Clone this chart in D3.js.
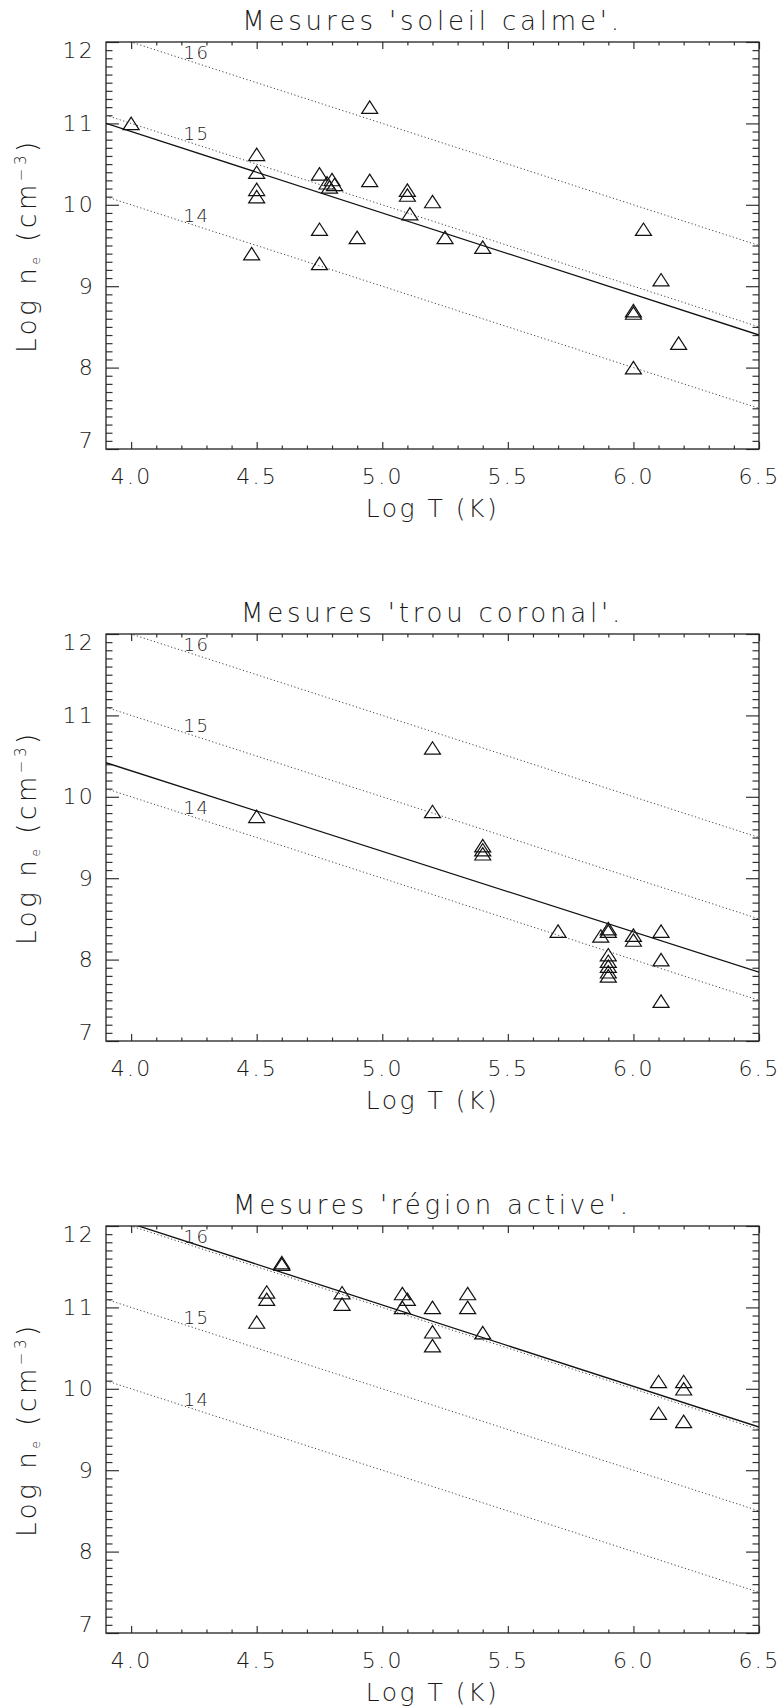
<!DOCTYPE html>
<html>
<head>
<meta charset="utf-8">
<script src="https://cdn.jsdelivr.net/npm/d3@7"></script>
<style>
  body { margin: 0; background: #fff; }
</style>
</head>
<body>
<div id="chart-area"></div>
<script>
// panels: titles + measured points (log T, log ne)
let titles = ["Mesures 'soleil calme'.", "Mesures 'trou coronal'.", "Mesures 'région active'."];

let calmeT  = [4.0, 4.95, 4.5, 4.5, 4.5, 4.5, 4.48, 4.75, 4.75, 4.75, 4.78, 4.80, 4.79, 4.81,
               4.95, 5.1, 5.1, 5.2, 5.11, 4.9, 5.25, 5.4, 6.04, 6.11, 6.0, 6.0, 6.18, 6.0];
let calmeNe = [11.0, 11.2, 10.62, 10.4, 10.19, 10.1, 9.4, 10.38, 9.7, 9.28, 10.27, 10.31, 10.22, 10.25,
               10.3, 10.18, 10.12, 10.04, 9.89, 9.6, 9.6, 9.48, 9.7, 9.08, 8.7, 8.67, 8.3, 8.0];

let trouT  = [4.5, 5.2, 5.2, 5.4, 5.4, 5.4, 5.7, 5.87, 5.9, 5.9, 5.9, 5.9, 5.9, 5.9, 5.9,
              6.0, 6.0, 6.11, 6.11, 6.11];
let trouNe = [9.76, 10.6, 9.82, 9.4, 9.35, 9.3, 8.35, 8.29, 8.38, 8.35, 8.06, 7.98, 7.92, 7.85, 7.8,
              8.3, 8.24, 8.35, 8.0, 7.49];

let actifT  = [4.6, 4.6, 4.54, 4.54, 4.5, 4.84, 4.84, 5.08, 5.1, 5.08, 5.2, 5.2, 5.2,
               5.34, 5.34, 5.4, 6.1, 6.1, 6.2, 6.2, 6.2];
let actifNe = [11.55, 11.53, 11.19, 11.1, 10.82, 11.18, 11.04, 11.17, 11.1, 11.0, 11.0, 10.7, 10.53,
               11.17, 11.0, 10.69, 10.09, 9.7, 10.09, 10.0, 9.6];

// fitted line: log ne = a + b * log T
let fitA = [14.9, 14.28, 16.03];
let fitB = [-1.0, -0.99, -1.0];

// iso-pressure lines  ne*T = 10^p
let isoP = [14, 15, 16];

let xTicks = [4.0, 4.5, 5.0, 5.5, 6.0, 6.5];
let xTickLabels = ['4.0', '4.5', '5.0', '5.5', '6.0', '6.5'];
let yTicks = [7, 8, 9, 10, 11, 12];
let yTickLabels = ['7', '8', '9', '10', '11', '12'];

let panels = [
  { T: calmeT, ne: calmeNe },
  { T: trouT, ne: trouNe },
  { T: actifT, ne: actifNe }
];

let FONT = "'DejaVu Sans', sans-serif";
let margin = { left: 106, top: [42, 634, 1226] };
let width = 653;
let height = 407;

let svg = d3.select('#chart-area').append('svg')
  .attr('width', 782)
  .attr('height', 1708);

let x = d3.scaleLinear().domain([3.9, 6.5]).range([0, width]);
let y = d3.scaleLinear().domain([7, 12]).range([height, 0]);

let xMinor = d3.range(40, 66).map(d => d / 10).filter(d => xTicks.indexOf(d) < 0);
let yMinor = d3.range(71, 120).map(d => d / 10).filter(d => yTicks.indexOf(d) < 0);

let tri = 'M-8,6.2L0,-6.2L8,6.2Z';

panels.forEach((p, i) => {
  let g = svg.append('g')
    .attr('transform', `translate(${margin.left}, ${margin.top[i]})`);

  g.append('clipPath').attr('id', 'clip' + i)
    .append('rect').attr('width', width).attr('height', height);

  // title
  g.append('text')
    .attr('x', width / 2)
    .attr('y', -12)
    .attr('text-anchor', 'middle')
    .attr('font-family', FONT)
    .attr('font-weight', 200)
    .attr('font-size', 26)
    .attr('letter-spacing', 3.8)
    .attr('fill', '#1a1a1a')
    .text(titles[i]);

  // axes, ticks pointing inward
  let axes = [
    { a: d3.axisBottom(x).tickValues(xTicks).tickSizeInner(-7).tickPadding(19)
        .tickFormat((d, k) => xTickLabels[k]), t: `translate(0, ${height})` },
    { a: d3.axisBottom(x).tickValues(xMinor).tickSizeInner(-3.5).tickFormat(''), t: `translate(0, ${height})` },
    { a: d3.axisTop(x).tickValues(xTicks).tickSizeInner(-7).tickFormat(''), t: 'translate(0,0)' },
    { a: d3.axisTop(x).tickValues(xMinor).tickSizeInner(-3.5).tickFormat(''), t: 'translate(0,0)' },
    { a: d3.axisLeft(y).tickValues(yTicks).tickSizeInner(-13).tickPadding(11)
        .tickFormat((d, k) => yTickLabels[k]), t: 'translate(0,0)' },
    { a: d3.axisLeft(y).tickValues(yMinor).tickSizeInner(-6.5).tickFormat(''), t: 'translate(0,0)' },
    { a: d3.axisRight(y).tickValues(yTicks).tickSizeInner(-13).tickFormat(''), t: `translate(${width},0)` },
    { a: d3.axisRight(y).tickValues(yMinor).tickSizeInner(-6.5).tickFormat(''), t: `translate(${width},0)` }
  ];
  axes.forEach(ax => {
    let ag = g.append('g')
      .attr('transform', ax.t)
      .call(ax.a.tickSizeOuter(0));
    ag.select('.domain').remove();
    ag.attr('color', '#333')
      .attr('font-family', FONT)
      .attr('font-size', 22);
    ag.selectAll('line').attr('stroke-width', 1.2);
    ag.selectAll('text').attr('font-weight', 200).attr('letter-spacing', 2.3).attr('fill', '#1a1a1a');
  });

  // edge labels sit inside the frame
  g.selectAll('text')
    .filter(function() { return this.textContent === '12'; })
    .attr('dy', '0.7em');
  g.selectAll('text')
    .filter(function() { return this.textContent === '7'; })
    .attr('dy', '-0.05em');

  // frame
  g.append('rect')
    .attr('width', width)
    .attr('height', height)
    .attr('fill', 'none')
    .attr('stroke', '#222')
    .attr('stroke-width', 1.3);

  // iso lines (dotted)
  let iso = g.append('g').attr('clip-path', `url(#clip${i})`);
  isoP.forEach(pv => {
    iso.append('path')
      .datum([3.9, 6.5])
      .attr('d', d3.line().x(d => x(d)).y(d => y(pv - d)))
      .attr('fill', 'none')
      .attr('stroke', '#444')
      .attr('stroke-width', 1)
      .attr('stroke-dasharray', '1.2,2.4');
  });
  g.selectAll('.iso-label')
    .data(isoP)
    .enter()
    .append('text')
    .attr('class', 'iso-label')
    .attr('x', x(4.26))
    .attr('y', d => y(d - 4.26 + 0.13))
    .attr('dy', '0.36em')
    .attr('text-anchor', 'middle')
    .attr('font-family', FONT)
    .attr('font-weight', 200)
    .attr('font-size', 18)
    .attr('letter-spacing', 1.5)
    .attr('fill', '#1a1a1a')
    .text(d => d);

  // fitted line
  g.append('path')
    .datum([3.9, 6.5])
    .attr('clip-path', `url(#clip${i})`)
    .attr('d', d3.line().x(d => x(d)).y(d => y(fitA[i] + fitB[i] * d)))
    .attr('fill', 'none')
    .attr('stroke', '#111')
    .attr('stroke-width', 1.3);

  // measurements
  g.selectAll('.pt')
    .data(p.T.map((t, k) => [t, p.ne[k]]))
    .enter()
    .append('path')
    .attr('class', 'pt')
    .attr('transform', d => `translate(${x(d[0])}, ${y(d[1])})`)
    .attr('d', tri)
    .attr('fill', 'none')
    .attr('stroke', '#111')
    .attr('stroke-width', 1.2);

  // axis titles
  g.append('text')
    .attr('x', width / 2)
    .attr('y', height + 68)
    .attr('text-anchor', 'middle')
    .attr('font-family', FONT)
    .attr('font-weight', 200)
    .attr('font-size', 25)
    .attr('letter-spacing', 2.5)
    .attr('fill', '#1a1a1a')
    .text('Log T (K)');

  let yl = g.append('text')
    .attr('transform', `translate(${27 - margin.left + 9}, ${height / 2}) rotate(-90)`)
    .attr('text-anchor', 'middle')
    .attr('font-family', FONT)
    .attr('font-weight', 200)
    .attr('font-size', 26)
    .attr('letter-spacing', 3.6)
    .attr('fill', '#1a1a1a');
  yl.append('tspan').text('Log n');
  yl.append('tspan').attr('font-size', 12).attr('dy', 4).text('e');
  yl.append('tspan').attr('dy', -4).text(' (cm');
  yl.append('tspan').attr('font-size', 15).attr('dy', -10).text('−3');
  yl.append('tspan').attr('dy', 10).text(')');
});
</script>
</body>
</html>
